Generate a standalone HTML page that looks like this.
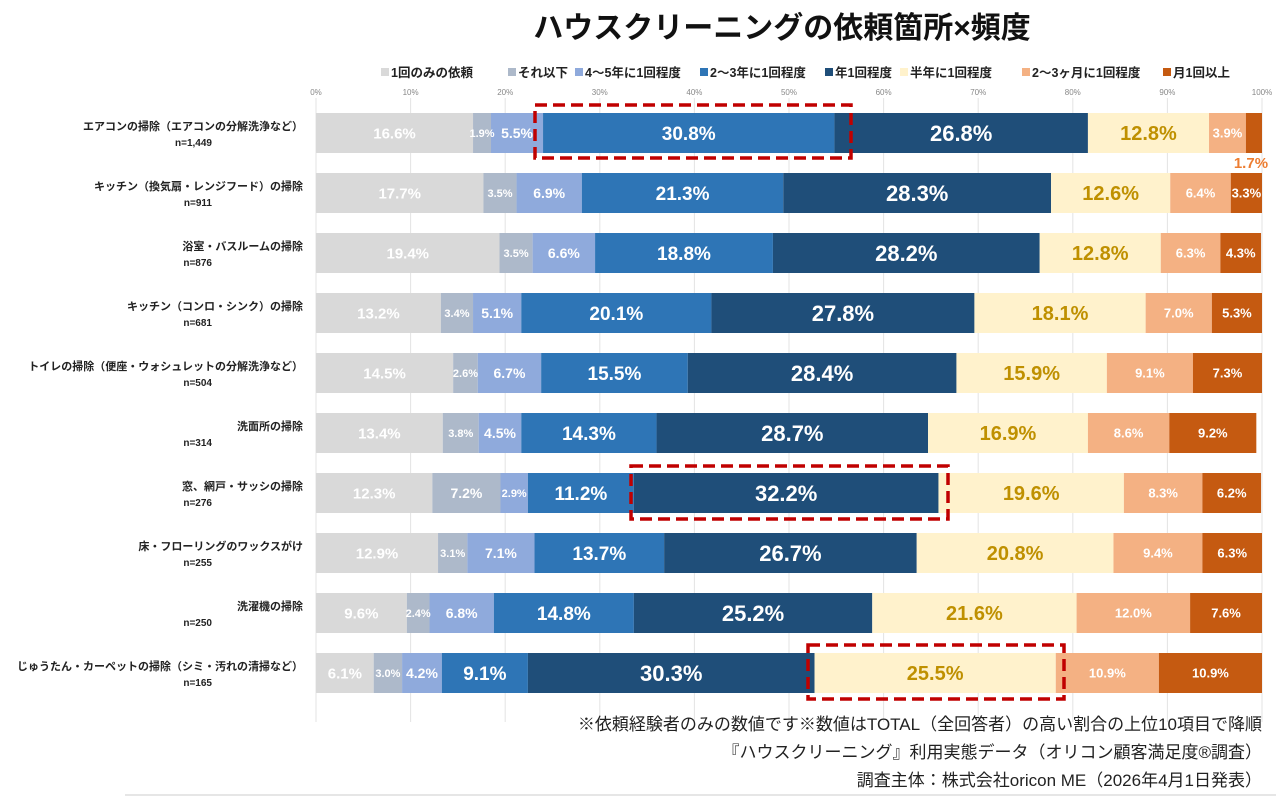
<!DOCTYPE html>
<html><head><meta charset="utf-8">
<style>
body{margin:0;background:#fff;font-family:"Liberation Sans","Noto Sans CJK JP",sans-serif;}
svg text{font-family:"Liberation Sans","Noto Sans CJK JP",sans-serif;}
</style></head>
<body>
<svg id="chart" width="1276" height="797" xmlns="http://www.w3.org/2000/svg">
<text x="782" y="38" text-anchor="middle" font-size="30" font-weight="bold" fill="#111">ハウスクリーニングの依頼箇所×頻度</text>
<g id="grid"></g><g id="legend"></g><g id="bars"></g><g id="labels"></g>
<rect x="535" y="105" width="316" height="53" fill="none" stroke="#c00000" stroke-width="3.5" stroke-dasharray="12,6"/>
<rect x="631" y="466" width="317" height="53" fill="none" stroke="#c00000" stroke-width="3.5" stroke-dasharray="12,6"/>
<rect x="808" y="645" width="256" height="54" fill="none" stroke="#c00000" stroke-width="3.5" stroke-dasharray="12,6"/>
<text x="1262" y="730" text-anchor="end" font-size="17" fill="#222">※依頼経験者のみの数値です※数値はTOTAL（全回答者）の高い割合の上位10項目で降順</text>
<text x="1262" y="758" text-anchor="end" font-size="17" fill="#222">『ハウスクリーニング』利用実態データ（オリコン顧客満足度®調査）</text>
<text x="1262" y="786" text-anchor="end" font-size="17" fill="#222">調査主体：株式会社oricon ME（2026年4月1日発表）</text>
<line x1="125" y1="795" x2="1276" y2="795" stroke="#ccc" stroke-width="1"/>
</svg>
<script>
const categories=["エアコンの掃除（エアコンの分解洗浄など）","キッチン（換気扇・レンジフード）の掃除","浴室・バスルームの掃除","キッチン（コンロ・シンク）の掃除","トイレの掃除（便座・ウォシュレットの分解洗浄など）","洗面所の掃除","窓、網戸・サッシの掃除","床・フローリングのワックスがけ","洗濯機の掃除","じゅうたん・カーペットの掃除（シミ・汚れの清掃など）"];
const sampleSizes=["n=1,449","n=911","n=876","n=681","n=504","n=314","n=276","n=255","n=250","n=165"];
const seriesNames=["1回のみの依頼","それ以下","4～5年に1回程度","2～3年に1回程度","年1回程度","半年に1回程度","2～3ヶ月に1回程度","月1回以上"];
const onceOnly=[16.6,17.7,19.4,13.2,14.5,13.4,12.3,12.9,9.6,6.1];
const lessThan=[1.9,3.5,3.5,3.4,2.6,3.8,7.2,3.1,2.4,3.0];
const every4to5y=[5.5,6.9,6.6,5.1,6.7,4.5,2.9,7.1,6.8,4.2];
const every2to3y=[30.8,21.3,18.8,20.1,15.5,14.3,11.2,13.7,14.8,9.1];
const yearly=[26.8,28.3,28.2,27.8,28.4,28.7,32.2,26.7,25.2,30.3];
const halfYearly=[12.8,12.6,12.8,18.1,15.9,16.9,19.6,20.8,21.6,25.5];
const every2to3m=[3.9,6.4,6.3,7.0,9.1,8.6,8.3,9.4,12.0,10.9];
const monthly=[1.7,3.3,4.3,5.3,7.3,9.2,6.2,6.3,7.6,10.9];
const tickLabels=["0%","10%","20%","30%","40%","50%","60%","70%","80%","90%","100%"];
const series=[onceOnly,lessThan,every4to5y,every2to3y,yearly,halfYearly,every2to3m,monthly];
const colors=["#d9d9d9","#adb9ca","#8faadc","#2e75b6","#1f4e79","#fff2cc","#f4b183","#c55a11"];
const textColors=["#fff","#fff","#fff","#fff","#fff","#bf9000","#fff","#fff"];
const X0=316,X1=1262;
const xs=v=>X0+(X1-X0)*v/100;
const yc=i=>133+i*60;
const BH=40;
const NS="http://www.w3.org/2000/svg";
function mk(tag,attrs,parent){const e=document.createElementNS(NS,tag);for(const k in attrs)e.setAttribute(k,attrs[k]);parent.appendChild(e);return e;}
const grid=document.getElementById('grid');
tickLabels.forEach((t,i)=>{
  const x=xs(i*10);
  const l=mk('line',{x1:x,x2:x,y1:98,y2:722,stroke:'#e3e3e3','stroke-width':1},grid);
  
  
  const tx=mk('text',{x:x,y:95,'text-anchor':'middle','font-size':8,fill:'#888'},grid);
  tx.textContent=t;
  
  
});
const lg=document.getElementById('legend');
const lx=[381,508,575,700,825,900,1022,1163];
seriesNames.forEach((n,i)=>{
  const r=mk('rect',{x:lx[i],y:68,width:8,height:8,fill:colors[i]},lg);
  
  
  const t=mk('text',{x:lx[i]+10,y:77,'font-size':12.5,'font-weight':'bold',fill:'#222'},lg);
  t.textContent=n;
  
  
});
const bars=document.getElementById('bars'),labs=document.getElementById('labels');
categories.forEach((c,i)=>{
  const y=yc(i);
  const ct=mk('text',{x:303,y:y-3,'text-anchor':'end','font-size':11,'font-weight':'bold',fill:'#222'},labs);
  ct.textContent=c;
  
  
  const nt=mk('text',{x:212,y:y+13,'text-anchor':'end','font-size':10,'font-weight':'bold',fill:'#222'},labs);
  nt.textContent=sampleSizes[i];
  
  
  let cum=0;
  series.forEach((s,k)=>{
    const v=s[i];
    const xa=xs(cum),xb=xs(cum+v);
    const r=mk('rect',{x:xa,y:y-BH/2,width:xb-xa,height:BH,fill:colors[k]},bars);
    
    
    let fs=k===0?15:(k===4?22:(v>=9?19:(v>=4?14:11)));
    if(k===6||k===7)fs=13;
    if(k===5)fs=20;
    const outside=(k===7&&v<2);
    const t=mk('text',{x:outside?(xa+xb)/2-3:(xa+xb)/2,y:outside?y+35:y+fs*0.36,'text-anchor':'middle','font-size':outside?15:fs,'font-weight':'bold',fill:outside?'#ed7d31':textColors[k]},labs);
    t.textContent=v.toFixed(1)+'%';
    
    
    cum+=v;
  });
});
</script>
</body></html>
